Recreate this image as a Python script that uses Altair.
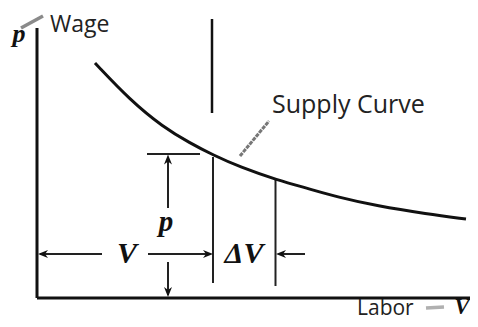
import altair as alt
import pandas as pd

# Supply curve (labor V vs wage p)
curve_x = [5.8, 9.3, 12.6, 15.3, 17.6, 20.3, 24.0, 27.3, 30.0, 34.0, 39.0, 42.9]
curve_y = [23.5, 19.8, 17.1, 15.5, 14.3, 13.1, 11.8, 10.9, 10.1, 9.2, 8.4, 7.9]

# Straight segments: x, y, x2, y2, width, colour
seg_x1 = [0.0, 0.0, 17.5, 17.6, 23.85, 11.0, 13.1, 13.1, 0.3, 11.1, 26.8, -1.6, 38.9]
seg_y1 = [0.0, 0.0, 18.5, 1.5, 1.2, 14.4, 9.0, 3.6, 4.4, 4.4, 4.4, 27.0, -1.0]
seg_x2 = [0.0, 43.4, 17.5, 17.6, 23.85, 16.3, 13.1, 13.1, 6.5, 17.3, 24.2, 0.6, 40.7]
seg_y2 = [27.0, 0.0, 27.9, 14.1, 11.8, 14.4, 14.1, 0.3, 4.4, 4.4, 4.4, 28.2, -0.9]
seg_w = [3, 3, 2.5, 2, 2, 2, 2, 2, 2, 2, 2, 3.5, 3.5]
seg_c = ["#111", "#111", "#111", "#222", "#222", "#222", "#222", "#222", "#222",
         "#222", "#222", "#8a8a8a", "#b0b0b0"]

# Arrow heads: tip position and direction (degrees clockwise from pointing right)
head_x = [13.1, 13.1, 0.1, 17.6, 23.9]
head_y = [14.35, 0.1, 4.4, 4.4, 4.4]
head_a = [270, 90, 180, 0, 180]

# Leader line to the curve label
lead_x = [20.3, 23.2]
lead_y = [14.2, 17.7]

# Labels (top labels: alphabetic baseline; bottom labels: bottom baseline)
sans_text = ["Wage", "Supply Curve"]
sans_x = [1.3, 23.5]
sans_y = [26.6, 18.5]
sans_s = [23, 25]

serif_text = ["p", "p", "V", "ΔV"]
serif_x = [-1.8, 12.9, 9.0, 20.7]
serif_y = [25.6, 6.7, 3.5, 3.5]
serif_s = [26, 29, 30, 30]

bottom_text = ["Labor", "V"]
bottom_x = [32.0, 42.5]
bottom_y = [-2.1, -2.1]
bottom_s = [21, 23]

xs = alt.Scale(domain=[-2.9, 43.3], nice=False, zero=False)
ys = alt.Scale(domain=[-2.1, 29.0], nice=False, zero=False)

curve = alt.Chart(pd.DataFrame({"x": curve_x, "y": curve_y})).mark_line(
    color="#111", strokeWidth=3, interpolate="basis"
).encode(x=alt.X("x:Q", scale=xs, axis=None), y=alt.Y("y:Q", scale=ys, axis=None))

segs = alt.Chart(pd.DataFrame({"x": seg_x1, "y": seg_y1, "x2": seg_x2, "y2": seg_y2,
                               "w": seg_w, "c": seg_c})).mark_rule(strokeCap="butt").encode(
    x=alt.X("x:Q", scale=xs, axis=None), y=alt.Y("y:Q", scale=ys, axis=None),
    x2="x2:Q", y2="y2:Q",
    strokeWidth=alt.StrokeWidth("w:Q", scale=None),
    color=alt.Color("c:N", scale=None),
)

lead = alt.Chart(pd.DataFrame({"x": lead_x, "y": lead_y})).mark_line(
    color="#777", strokeWidth=3, strokeDash=[4, 1]
).encode(x=alt.X("x:Q", scale=xs, axis=None), y=alt.Y("y:Q", scale=ys, axis=None))

heads = alt.Chart(pd.DataFrame({"x": head_x, "y": head_y, "a": head_a})).mark_point(
    shape="M0,0 L-2,-0.8 L-1.4,0 L-2,0.8 Z", filled=True, color="#111", opacity=1, size=100
).encode(x=alt.X("x:Q", scale=xs, axis=None), y=alt.Y("y:Q", scale=ys, axis=None),
         angle=alt.Angle("a:Q", scale=None))

sans = alt.Chart(pd.DataFrame({"t": sans_text, "x": sans_x, "y": sans_y, "s": sans_s})).mark_text(
    font="Open Sans", align="left", baseline="alphabetic", color="#222"
).encode(x=alt.X("x:Q", scale=xs, axis=None), y=alt.Y("y:Q", scale=ys, axis=None), text="t:N",
         size=alt.Size("s:Q", scale=None))

serif = alt.Chart(pd.DataFrame({"t": serif_text, "x": serif_x, "y": serif_y, "s": serif_s})).mark_text(
    font="Liberation Serif", fontWeight="bold", fontStyle="italic", align="center",
    baseline="alphabetic", color="#111"
).encode(x=alt.X("x:Q", scale=xs, axis=None), y=alt.Y("y:Q", scale=ys, axis=None), text="t:N",
         size=alt.Size("s:Q", scale=None))

bdf = pd.DataFrame({"t": bottom_text, "x": bottom_x, "y": bottom_y, "s": bottom_s})
labor = alt.Chart(bdf).transform_filter(alt.datum.t == "Labor").mark_text(
    font="Open Sans", align="left", baseline="bottom", color="#222"
).encode(x=alt.X("x:Q", scale=xs, axis=None), y=alt.Y("y:Q", scale=ys, axis=None), text="t:N",
         size=alt.Size("s:Q", scale=None))
vlab = alt.Chart(bdf).transform_filter(alt.datum.t == "V").mark_text(
    font="Liberation Serif", fontWeight="bold", fontStyle="italic", align="center",
    baseline="bottom", color="#111"
).encode(x=alt.X("x:Q", scale=xs, axis=None), y=alt.Y("y:Q", scale=ys, axis=None), text="t:N",
         size=alt.Size("s:Q", scale=None))

chart = alt.layer(segs, curve, lead, heads, sans, serif, labor, vlab).properties(
    width=462, height=311, padding=0, background="white",
    autosize=alt.AutoSizeParams(type="none")
).configure_view(stroke=None)

chart.save("out.html", embed_options={"renderer": "svg", "actions": False})
